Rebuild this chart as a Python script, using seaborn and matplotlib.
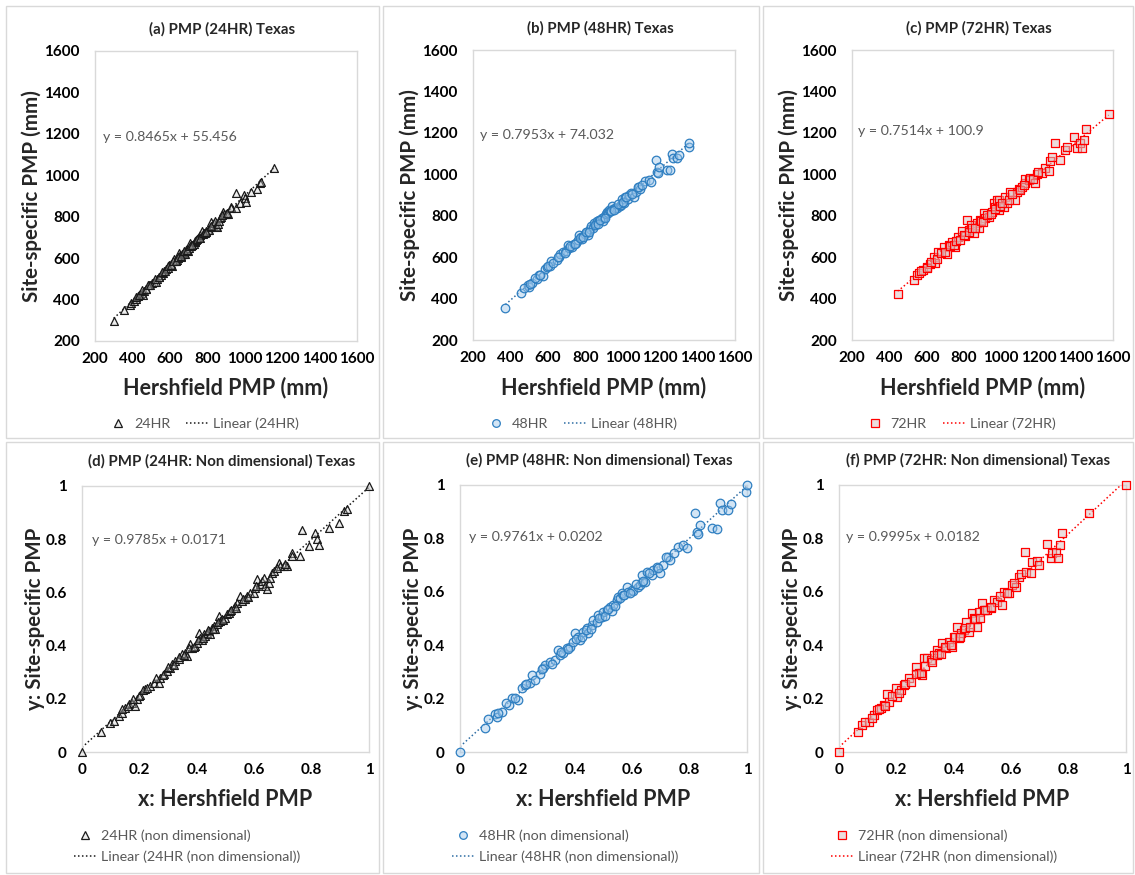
import matplotlib
matplotlib.use("Agg")
import matplotlib.pyplot as plt
from matplotlib.lines import Line2D
from matplotlib.patches import Rectangle
from matplotlib.ticker import FuncFormatter
import numpy as np
import seaborn as sns

# ---------------------------------------------------------------- data
# 24-hour PMP (mm)
hershfield_24 = [300, 357, 385, 394, 409, 419, 429, 439, 449, 459, 464, 474, 489, 503, 514,
                 528, 533, 544, 553, 563, 568, 578, 588, 598, 608, 613, 622, 627, 638, 642,
                 647, 652, 657, 663, 668, 673, 677, 682, 687, 692, 698, 702, 707, 712, 717,
                 727, 732, 737, 742, 751, 757, 762, 772, 776, 786, 792, 802, 811, 816, 822,
                 831, 836, 841, 846, 851, 856, 866, 871, 886, 891, 901, 910, 926, 926, 951,
                 956, 975, 995, 1000, 1007, 1034, 1064, 1080, 1089, 1155,
                 420, 436, 452, 470, 482, 495, 520, 540, 556, 575, 590, 605, 618, 633,
                 645, 660, 676, 690, 705, 720, 745, 760, 780, 795, 820, 860, 880, 905]
site_24 = [295, 350, 375, 382, 395, 405, 419, 427, 432, 423, 442, 453, 470, 479, 487,
           487, 501, 511, 521, 530, 539, 548, 553, 567, 571, 562, 595, 585, 590, 599,
           627, 613, 607, 622, 618, 627, 632, 622, 641, 646, 636, 650, 673, 659, 664,
           669, 678, 683, 687, 697, 701, 710, 729, 715, 720, 729, 738, 738, 752, 775,
           761, 771, 780, 757, 748, 766, 794, 798, 822, 812, 812, 812, 849, 840, 840,
           913, 868, 906, 888, 870, 919, 933, 965, 970, 1035,
           414, 422, 444, 450, 468, 472, 500, 510, 531, 538, 560, 566, 584, 588,
           606, 611, 633, 637, 657, 662, 691, 696, 720, 725, 756, 779, 806, 818]

# 48-hour PMP (mm)
hershfield_48 = [373, 459, 493, 501, 516, 542, 550, 573, 584, 595, 613, 619, 647, 658, 664,
                 682, 698, 710, 715, 727, 739, 749, 761, 767, 778, 784, 796, 807, 812, 824,
                 830, 841, 847, 859, 864, 875, 887, 892, 898, 910, 916, 921, 926, 932, 944,
                 950, 961, 967, 983, 989, 995, 995, 1007, 1012, 1030, 1036, 1046, 1058, 1069,
                 1087, 1093, 1121, 1138, 1150, 1178, 1184, 1189, 1195, 1235, 1252, 1264, 1269,
                 1292, 1300, 1354, 1356,
                 470, 505, 530, 560, 600, 630, 655, 690, 720, 745, 770, 790, 805, 820,
                 850, 870, 880, 905, 935, 955, 975, 1000, 1020, 1050, 1080, 1105]
site_48 = [353, 426, 466, 457, 474, 494, 514, 509, 543, 554, 559, 583, 586, 603, 614,
           623, 629, 659, 643, 649, 663, 669, 683, 708, 699, 688, 714, 723, 708, 734,
           748, 743, 763, 759, 774, 779, 788, 775, 794, 808, 819, 814, 828, 823, 848,
           833, 839, 835, 848, 853, 863, 883, 863, 891, 883, 899, 908, 888, 913,
           939, 928, 968, 973, 963, 1068, 1013, 1005, 1033, 1023, 1020, 1098, 1078,
           1078, 1095, 1131, 1153,
           452, 470, 500, 515, 556, 570, 600, 618, 652, 662, 691, 697, 719, 721,
           755, 760, 780, 789, 823, 829, 855, 864, 890, 904, 938, 948]

# 72-hour PMP (mm)
hershfield_72 = [445, 531, 549, 558, 579, 602, 620, 638, 647, 661, 692, 710, 719, 736, 754,
                 769, 790, 808, 817, 826, 840, 853, 871, 879, 888, 906, 915, 933, 951, 960,
                 969, 978, 987, 987, 1014, 1022, 1031, 1049, 1076, 1085, 1094, 1112, 1130,
                 1130, 1148, 1157, 1183, 1192, 1219, 1233, 1255, 1264, 1273, 1287, 1318,
                 1344, 1353, 1389, 1407, 1425, 1434, 1443, 1457, 1577,
                 570, 600, 625, 655, 680, 700, 725, 745, 760, 780, 800, 830, 845, 860,
                 890, 900, 925, 945, 965, 995, 1005, 1040, 1060, 1100, 1120, 1170, 1200]
site_72 = [422, 490, 514, 522, 538, 554, 567, 602, 573, 627, 651, 615, 659, 675, 651,
           696, 728, 702, 779, 731, 755, 718, 763, 739, 779, 812, 787, 795, 820, 860,
           844, 876, 828, 876, 844, 892, 860, 916, 876, 916, 927, 940, 956,
           976, 972, 980, 956, 1001, 1008, 1029, 1017, 1066, 1082, 1149, 1069,
           1117, 1133, 1178, 1128, 1153, 1128, 1166, 1217, 1290,
           534, 548, 577, 590, 618, 623, 652, 657, 678, 683, 708, 721, 742, 743,
           776, 772, 802, 806, 832, 845, 862, 877, 903, 922, 948, 975, 1010]

# Non-dimensional (scaled 0-1) PMP
nd_hershfield_24 = [0.0, 0.067, 0.099, 0.110, 0.128, 0.139, 0.151, 0.163, 0.174, 0.186, 0.192,
                    0.203, 0.221, 0.238, 0.250, 0.267, 0.273, 0.285, 0.296, 0.308, 0.314, 0.325,
                    0.337, 0.348, 0.360, 0.366, 0.377, 0.383, 0.395, 0.400, 0.406, 0.412, 0.418,
                    0.424, 0.430, 0.436, 0.441, 0.447, 0.453, 0.459, 0.465, 0.470, 0.476, 0.482,
                    0.488, 0.499, 0.505, 0.511, 0.517, 0.528, 0.534, 0.540, 0.552, 0.557, 0.569,
                    0.575, 0.587, 0.598, 0.604, 0.610, 0.621, 0.627, 0.633, 0.639, 0.645, 0.650,
                    0.662, 0.668, 0.685, 0.691, 0.703, 0.714, 0.732, 0.732, 0.761, 0.767, 0.790,
                    0.813, 0.819, 0.827, 0.859, 0.894, 0.912, 0.923, 1.0,
                    0.140, 0.159, 0.178, 0.199, 0.213, 0.228, 0.257, 0.281, 0.299, 0.322,
                    0.339, 0.357, 0.372, 0.389, 0.404, 0.421, 0.440, 0.456, 0.474, 0.491,
                    0.520, 0.538, 0.561, 0.579, 0.608, 0.655, 0.678, 0.708]
nd_site_24 = [0.0, 0.075, 0.108, 0.117, 0.135, 0.148, 0.167, 0.179, 0.185, 0.173, 0.198,
              0.213, 0.236, 0.248, 0.260, 0.260, 0.279, 0.292, 0.305, 0.317, 0.330, 0.342,
              0.348, 0.367, 0.373, 0.361, 0.405, 0.392, 0.398, 0.411, 0.449, 0.430, 0.421,
              0.442, 0.436, 0.449, 0.455, 0.442, 0.467, 0.474, 0.461, 0.480, 0.511, 0.492,
              0.499, 0.505, 0.518, 0.524, 0.530, 0.543, 0.549, 0.561, 0.586, 0.568, 0.574,
              0.586, 0.599, 0.599, 0.618, 0.649, 0.630, 0.643, 0.655, 0.624, 0.612, 0.637,
              0.674, 0.680, 0.712, 0.699, 0.699, 0.699, 0.749, 0.737, 0.737, 0.835, 0.774,
              0.825, 0.802, 0.777, 0.843, 0.862, 0.906, 0.912, 1.0,
              0.161, 0.172, 0.201, 0.209, 0.234, 0.239, 0.277, 0.291, 0.319, 0.328,
              0.358, 0.366, 0.391, 0.396, 0.420, 0.427, 0.457, 0.462, 0.489, 0.496,
              0.535, 0.542, 0.574, 0.581, 0.623, 0.654, 0.691, 0.707]

nd_hershfield_48 = [0.0, 0.087, 0.122, 0.130, 0.145, 0.172, 0.180, 0.203, 0.215, 0.226, 0.244,
                    0.250, 0.279, 0.290, 0.296, 0.314, 0.331, 0.343, 0.348, 0.360, 0.372, 0.383,
                    0.395, 0.401, 0.412, 0.418, 0.430, 0.441, 0.447, 0.459, 0.465, 0.476, 0.482,
                    0.494, 0.499, 0.511, 0.523, 0.528, 0.534, 0.546, 0.552, 0.557, 0.563, 0.569,
                    0.581, 0.587, 0.598, 0.604, 0.621, 0.627, 0.633, 0.633, 0.645, 0.650, 0.668,
                    0.674, 0.685, 0.697, 0.708, 0.726, 0.732, 0.761, 0.778, 0.790, 0.819, 0.825,
                    0.830, 0.836, 0.877, 0.894, 0.906, 0.912, 0.935, 0.943, 0.998, 1.0,
                    0.099, 0.134, 0.160, 0.190, 0.231, 0.261, 0.287, 0.322, 0.353, 0.378,
                    0.404, 0.424, 0.439, 0.455, 0.485, 0.506, 0.516, 0.541, 0.572, 0.592,
                    0.612, 0.638, 0.658, 0.689, 0.719, 0.745]
nd_site_48 = [0.0, 0.091, 0.141, 0.130, 0.151, 0.176, 0.201, 0.195, 0.238, 0.251, 0.257,
              0.288, 0.291, 0.313, 0.326, 0.338, 0.345, 0.382, 0.363, 0.370, 0.388, 0.395,
              0.413, 0.444, 0.432, 0.419, 0.451, 0.463, 0.444, 0.476, 0.494, 0.488, 0.513,
              0.507, 0.526, 0.532, 0.544, 0.528, 0.551, 0.569, 0.582, 0.576, 0.594, 0.588,
              0.619, 0.600, 0.607, 0.603, 0.619, 0.625, 0.638, 0.663, 0.638, 0.673, 0.663,
              0.682, 0.694, 0.669, 0.700, 0.732, 0.719, 0.769, 0.775, 0.763, 0.894, 0.825,
              0.815, 0.850, 0.838, 0.834, 0.931, 0.906, 0.906, 0.928, 0.973, 1.0,
              0.124, 0.146, 0.184, 0.203, 0.254, 0.271, 0.309, 0.331, 0.374, 0.386,
              0.423, 0.430, 0.458, 0.460, 0.503, 0.509, 0.534, 0.545, 0.588, 0.595,
              0.628, 0.639, 0.671, 0.689, 0.731, 0.744]

nd_hershfield_72 = [0.0, 0.067, 0.081, 0.105, 0.122, 0.134, 0.145, 0.157, 0.168, 0.174, 0.197,
                    0.203, 0.215, 0.226, 0.244, 0.267, 0.279, 0.290, 0.296, 0.308, 0.319, 0.331,
                    0.343, 0.348, 0.360, 0.372, 0.383, 0.395, 0.401, 0.412, 0.418, 0.424, 0.436,
                    0.441, 0.453, 0.465, 0.470, 0.482, 0.488, 0.499, 0.505, 0.517, 0.528, 0.540,
                    0.552, 0.569, 0.575, 0.592, 0.604, 0.616, 0.627, 0.633, 0.647, 0.650, 0.668,
                    0.674, 0.691, 0.697, 0.726, 0.740, 0.743, 0.755, 0.764, 0.769, 0.776, 0.872,
                    1.0,
                    0.090, 0.115, 0.140, 0.160, 0.185, 0.210, 0.230, 0.250, 0.270, 0.285,
                    0.300, 0.325, 0.340, 0.355, 0.370, 0.390, 0.405, 0.420, 0.440, 0.455,
                    0.475, 0.490, 0.510, 0.530, 0.560, 0.585, 0.610]
nd_site_72 = [0.0, 0.074, 0.101, 0.111, 0.139, 0.157, 0.164, 0.176, 0.216, 0.189, 0.241,
              0.207, 0.232, 0.251, 0.276, 0.320, 0.295, 0.288, 0.351, 0.351, 0.345, 0.363,
              0.382, 0.370, 0.407, 0.388, 0.413, 0.394, 0.432, 0.469, 0.426, 0.444, 0.457,
              0.488, 0.451, 0.519, 0.501, 0.469, 0.526, 0.557, 0.532, 0.532, 0.538, 0.569,
              0.563, 0.551, 0.598, 0.594, 0.625, 0.619, 0.657, 0.665, 0.748, 0.675, 0.669,
              0.713, 0.715, 0.700, 0.778, 0.725, 0.744, 0.750, 0.725, 0.775, 0.819, 0.894,
              1.0,
              0.112, 0.128, 0.162, 0.172, 0.208, 0.222, 0.253, 0.262, 0.293, 0.297,
              0.323, 0.337, 0.364, 0.367, 0.393, 0.402, 0.429, 0.432, 0.463, 0.467,
              0.498, 0.502, 0.533, 0.542, 0.583, 0.597, 0.633]

# Linear trendlines (slope, intercept) as printed on each panel
slopes = [0.8465, 0.7953, 0.7514, 0.9785, 0.9761, 0.9995]
intercepts = [55.456, 74.032, 100.9, 0.0171, 0.0202, 0.0182]
equations = ["y = 0.8465x + 55.456", "y = 0.7953x + 74.032", "y = 0.7514x + 100.9",
             "y = 0.9785x + 0.0171", "y = 0.9761x + 0.0202", "y = 0.9995x + 0.0182"]

titles = ["(a) PMP (24HR) Texas", "(b) PMP (48HR) Texas", "(c) PMP (72HR) Texas",
          "(d) PMP (24HR: Non dimensional) Texas", "(e) PMP (48HR: Non dimensional) Texas",
          "(f) PMP (72HR: Non dimensional) Texas"]
series_names = ["24HR", "48HR", "72HR",
                "24HR (non dimensional)", "48HR (non dimensional)", "72HR (non dimensional)"]

# ---------------------------------------------------------------- style
sns.set_theme(style="white")
plt.rcParams["font.family"] = ["Lato", "DejaVu Sans"]

W, H = 1135, 875
fig = plt.figure(figsize=(W / 100, H / 100), dpi=100)
fig.patch.set_facecolor("white")


def fx(px):
    return px / W


def fy(py):
    return 1 - py / H


GRID = "#D9D9D9"
LABEL_GRAY = "#595959"

# chart-area frames
for (x0, y0, x1, y1) in [(6, 6, 379, 438), (383, 6, 759, 438), (763, 6, 1133, 438),
                         (6, 442, 379, 873), (383, 442, 759, 873), (763, 442, 1133, 873)]:
    fig.add_artist(Rectangle((fx(x0), fy(y1)), fx(x1) - fx(x0), fy(y0) - fy(y1),
                             transform=fig.transFigure, fill=False,
                             edgecolor=GRID, linewidth=1.0))

styles = [
    dict(marker="^", s=32, face=(0.82, 0.82, 0.82, 0.35), edge="#1a1a1a", line="#1a1a1a"),
    dict(marker="o", s=38, face=(0.62, 0.78, 0.92, 0.45), edge="#2F7FC1", line="#2E6DA4"),
    dict(marker="s", s=36, face=(0.86, 0.76, 0.76, 0.55), edge="#FF0000", line="#FF0000"),
]

# plot-area boxes in pixels: (left, top, right, bottom)
boxes = [(95, 51, 357, 341), (473, 50, 735, 340), (852, 50, 1113, 340),
         (82, 486, 369, 752), (460, 485, 747, 752), (839, 485, 1126, 752)]
eq_pos = [(103, 137), (480, 135), (858, 131), (92, 540), (469, 537), (846, 537)]

data = [(hershfield_24, site_24), (hershfield_48, site_48), (hershfield_72, site_72),
        (nd_hershfield_24, nd_site_24), (nd_hershfield_48, nd_site_48),
        (nd_hershfield_72, nd_site_72)]

for i in range(6):
    left, top, right, bottom = boxes[i]
    ax = fig.add_axes([fx(left), fy(bottom), fx(right) - fx(left), fy(top) - fy(bottom)])
    st = styles[i % 3]
    xs, ys = np.asarray(data[i][0], float), np.asarray(data[i][1], float)

    sns.scatterplot(x=xs, y=ys, marker=st["marker"], s=st["s"], facecolor=st["face"],
                    edgecolor=st["edge"], linewidth=0.9, ax=ax, legend=False, zorder=3,
                    clip_on=False)
    tx = np.array([xs.min(), xs.max()])
    ty = slopes[i] * tx + intercepts[i]
    sns.lineplot(x=tx, y=ty, ax=ax, color=st["line"], linestyle=(0, (1, 1.6)),
                 linewidth=1.1, zorder=2)

    dimensional = i < 3
    if dimensional:
        ax.set_xlim(200, 1600)
        ax.set_ylim(200, 1600)
        ticks = np.arange(200, 1601, 200)
    else:
        ax.set_xlim(0, 1)
        ax.set_ylim(0, 1)
        ticks = np.linspace(0, 1, 6)
    ax.set_xticks(ticks)
    ax.set_yticks(ticks)
    fmt = FuncFormatter(lambda v, p: f"{v:g}" if not dimensional else f"{int(round(v))}")
    ax.xaxis.set_major_formatter(fmt)
    ax.yaxis.set_major_formatter(fmt)
    ax.tick_params(length=0, labelsize=11, colors="black")
    ax.tick_params(axis="x", pad=8)
    ax.tick_params(axis="y", pad=11)
    for lab in ax.get_xticklabels() + ax.get_yticklabels():
        lab.set_fontweight("bold")
    for sp in ax.spines.values():
        sp.set_color(GRID)
        sp.set_linewidth(1.0)
    ax.set_facecolor("white")
    ax.set_xlabel("")
    ax.set_ylabel("")

    cx = (left + right) / 2
    # title
    fig.text(fx(cx - 4), fy(top - 22 if dimensional else top - 25), titles[i],
             ha="center", va="center", fontsize=10.8, fontweight="bold")
    # axis titles
    if dimensional:
        fig.text(fx(cx), fy(388), "Hershfield PMP (mm)", ha="center", va="center",
                 fontsize=15.5, fontweight="bold")
        fig.text(fx(left - 63), fy((top + bottom) / 2), "Site-specific PMP (mm)",
                 ha="center", va="center", rotation=90, fontsize=14.8, fontweight="bold")
    else:
        fig.text(fx(cx), fy(800), "x: Hershfield PMP", ha="center", va="center",
                 fontsize=15.5, fontweight="bold")
        fig.text(fx(left - 47), fy((top + bottom) / 2), "y: Site-specific PMP",
                 ha="center", va="center", rotation=90, fontsize=14.8, fontweight="bold")

    # regression equation
    ex, ey = eq_pos[i]
    fig.text(fx(ex), fy(ey), equations[i], ha="left", va="center", fontsize=10.2,
             color=LABEL_GRAY)

    # legend
    mk = Line2D([], [], linestyle="none", marker=st["marker"], markersize=5.5,
                markerfacecolor=st["face"], markeredgecolor=st["edge"], markeredgewidth=0.9)
    ln = Line2D([], [], color=st["line"], linestyle=(0, (1, 1.6)), linewidth=1.1)
    labels = [series_names[i], f"Linear ({series_names[i]})"]
    if dimensional:
        fig.legend([mk, ln], labels, loc="center", bbox_to_anchor=(fx(cx - 23), fy(424)),
                   ncol=2, frameon=False, fontsize=10.3, labelcolor=LABEL_GRAY,
                   handlelength=1.6, handletextpad=0.3, columnspacing=1.1)
    else:
        fig.legend([mk, ln], labels, loc="upper left",
                   bbox_to_anchor=(fx(left - 8), fy(829)),
                   ncol=1, frameon=False, fontsize=10.3, labelcolor=LABEL_GRAY,
                   handlelength=1.6, handletextpad=0.3, labelspacing=0.6,
                   borderaxespad=0, borderpad=0)

fig.savefig("out.png", dpi=100, facecolor="white")
